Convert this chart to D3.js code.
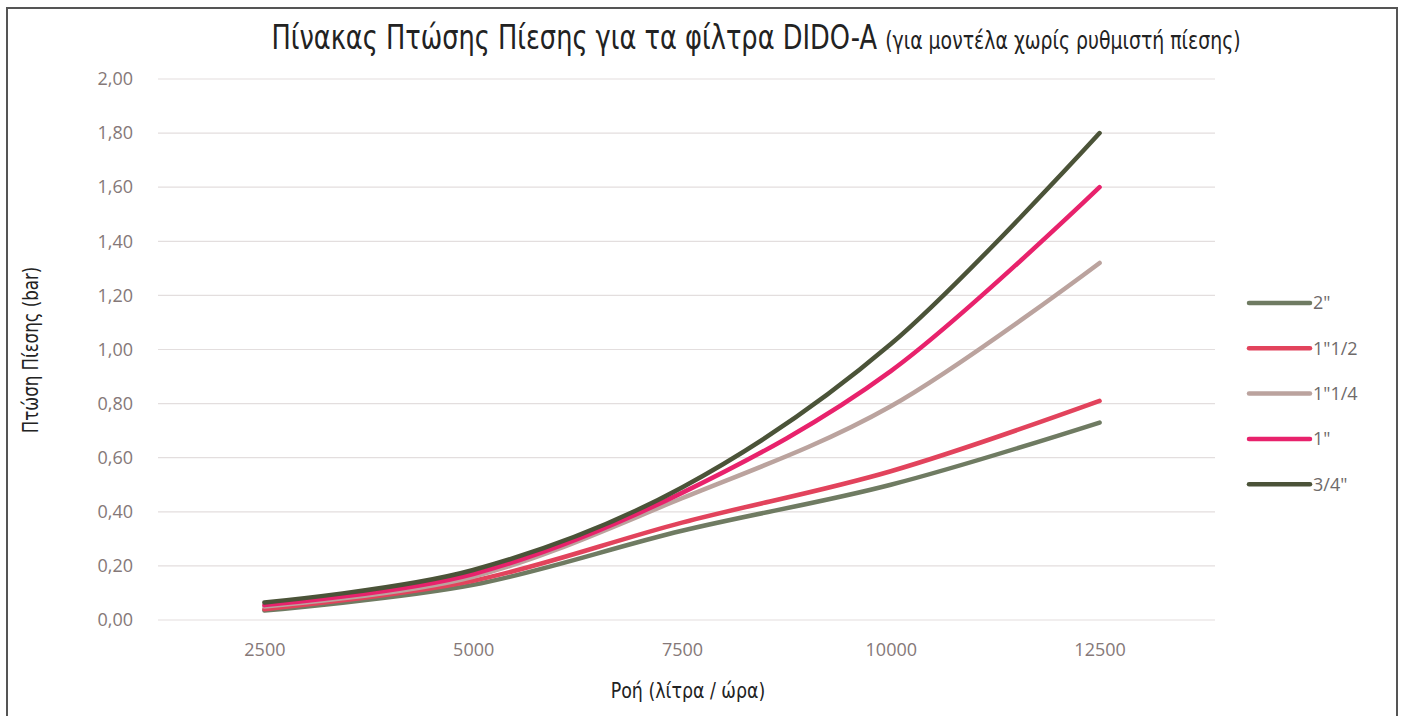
<!DOCTYPE html>
<html>
<head>
<meta charset="utf-8">
<script src="https://cdn.jsdelivr.net/npm/d3@7"></script>
<style>
  body { margin: 0; background: #fff; }
  .tick text { font-family: "Open Sans", sans-serif; }
</style>
</head>
<body>
<svg id="chart" width="1404" height="716"></svg>
<script>
// flow categories (litres / hour)
var flows = ["2500", "5000", "7500", "10000", "12500"];
var seriesNames = ["2\"", "1\"1/2", "1\"1/4", "1\"", "3/4\""];
var seriesColors = ["#6f7b62", "#e2435c", "#bba39e", "#e8226c", "#4b5338"];
// pressure drop (bar) per series
var drop2 = [0.035, 0.13, 0.33, 0.50, 0.73];
var drop1_5 = [0.04, 0.145, 0.36, 0.55, 0.81];
var drop1_25 = [0.05, 0.16, 0.45, 0.79, 1.32];
var drop1 = [0.055, 0.17, 0.47, 0.92, 1.60];
var drop075 = [0.065, 0.185, 0.49, 1.02, 1.80];
var yTicks = [0, 0.2, 0.4, 0.6, 0.8, 1.0, 1.2, 1.4, 1.6, 1.8, 2.0];

var allSeries = [drop2, drop1_5, drop1_25, drop1, drop075];

var svg = d3.select("#chart");
var condensed = "'DejaVu Sans Condensed', sans-serif";

// frame
svg.append("path")
  .attr("d", "M7,716 L7,8 L1397,8 L1397,716")
  .attr("fill", "none")
  .attr("stroke", "#555")
  .attr("stroke-width", 2);

var plot = { left: 158, right: 1215, top: 79, bottom: 620 };

// category centres sit a little left of the gridline span's centre
var x = d3.scalePoint().domain(flows).range([160, 1204]).padding(0.5);
var y = d3.scaleLinear().domain([0, 2]).range([plot.bottom, plot.top]);

// gridlines
svg.append("g")
  .selectAll("line")
  .data(yTicks)
  .enter().append("line")
  .attr("x1", plot.left)
  .attr("x2", plot.right)
  .attr("y1", function(d) { return y(d); })
  .attr("y2", function(d) { return y(d); })
  .attr("stroke", "#e3dede")
  .attr("stroke-width", 1.2);

// y axis labels
var yAxis = svg.append("g")
  .attr("transform", "translate(" + (plot.left - 22) + ",0)")
  .call(d3.axisLeft(y).tickValues(yTicks).tickSize(0)
    .tickFormat(function(d) { return d3.format(".2f")(d).replace(".", ","); }));
yAxis.select(".domain").remove();
yAxis.selectAll("text")
  .attr("font-size", 18)
  .attr("fill", "#857878");

// x axis labels
var xAxis = svg.append("g")
  .attr("transform", "translate(0," + (plot.bottom + 20) + ")")
  .call(d3.axisBottom(x).tickSize(0));
xAxis.select(".domain").remove();
xAxis.selectAll("text")
  .attr("font-size", 18)
  .attr("fill", "#857878");

// lines
var line = d3.line()
  .x(function(d, i) { return x(flows[i]); })
  .y(function(d) { return y(d); })
  .curve(d3.curveCatmullRom.alpha(0));

svg.append("g")
  .selectAll("path")
  .data(allSeries)
  .enter().append("path")
  .attr("d", line)
  .attr("fill", "none")
  .attr("stroke", function(d, i) { return seriesColors[i]; })
  .attr("stroke-width", 4.5)
  .attr("stroke-linecap", "round");

// legend
var legend = svg.append("g")
  .selectAll("g")
  .data(seriesNames)
  .enter().append("g")
  .attr("transform", function(d, i) { return "translate(1249," + (303 + i * 45.3) + ")"; });
legend.append("line")
  .attr("x1", 0).attr("x2", 61)
  .attr("stroke", function(d, i) { return seriesColors[i]; })
  .attr("stroke-width", 4.5)
  .attr("stroke-linecap", "round");
legend.append("text")
  .attr("x", 64)
  .attr("dy", "0.35em")
  .attr("font-family", "'Open Sans', sans-serif")
  .attr("font-size", 18)
  .attr("fill", "#6e6a6a")
  .text(function(d) { return d; });

// title, squeezed to look like the narrow original face
var title = svg.append("text")
  .attr("transform", "translate(756,49) scale(0.84,1)")
  .attr("text-anchor", "middle")
  .attr("font-family", condensed)
  .attr("fill", "#222");
title.append("tspan").attr("font-size", 34).text("Πίνακας Πτώσης Πίεσης για τα φίλτρα DIDO-A ");
title.append("tspan").attr("font-size", 25).text("(για μοντέλα χωρίς ρυθμιστή πίεσης)");

// axis titles
svg.append("text")
  .attr("transform", "translate(38,350) rotate(-90) scale(0.88,1)")
  .attr("text-anchor", "middle")
  .attr("font-family", condensed)
  .attr("font-size", 21)
  .attr("fill", "#222")
  .text("Πτώση Πίεσης (bar)");

svg.append("text")
  .attr("transform", "translate(688,698) scale(0.88,1)")
  .attr("text-anchor", "middle")
  .attr("font-family", condensed)
  .attr("font-size", 22)
  .attr("fill", "#222")
  .text("Ροή (λίτρα / ώρα)");
</script>
</body>
</html>
